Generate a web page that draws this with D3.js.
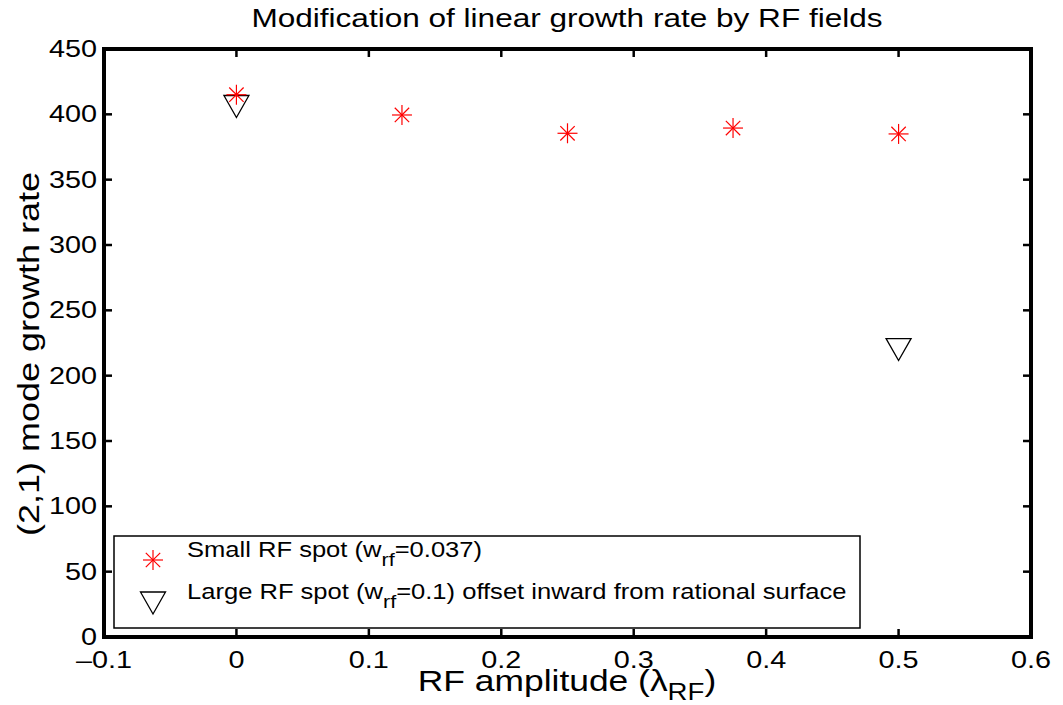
<!DOCTYPE html>
<html><head><meta charset="utf-8">
<script src="https://cdn.jsdelivr.net/npm/d3@7"></script>
<style>body{margin:0;background:#fff}svg{display:block}text{font-family:"Liberation Sans",Arial,sans-serif}</style>
</head><body>
<svg id="c" width="1063" height="705"></svg>
<script>
const amplitude = [0, 0.125, 0.25, 0.375, 0.5];
const smallSpot = [415, 399.5, 385.5, 389.5, 385];
const largeAmp = [0, 0.5];
const largeSpot = [406, 220];
const xTicks = [-0.1, 0, 0.1, 0.2, 0.3, 0.4, 0.5, 0.6];
const yTicks = [0, 50, 100, 150, 200, 250, 300, 350, 400, 450];
const title = "Modification of linear growth rate by RF fields";

const svg = d3.select("#c");
const L = 104, R = 1031, T = 49, B = 637;
const SX = 1.2;
const x = d3.scaleLinear().domain([-0.1, 0.6]).range([L, R]);
const y = d3.scaleLinear().domain([0, 450]).range([B, T]);

function txt(sel, px, py, anchor, size, rot) {
  const gg = sel.append("g").attr("transform", `translate(${px},${py})` + (rot ? ` rotate(${rot})` : "") + ` scale(${SX},1)`);
  return gg.append("text").attr("text-anchor", anchor).attr("font-size", size);
}

const tl = 8;
const g = svg.append("g");
xTicks.forEach(v => {
  g.append("line").attr("x1", x(v)).attr("x2", x(v)).attr("y1", B).attr("y2", B - tl).attr("stroke", "#000").attr("stroke-width", 2.5);
  g.append("line").attr("x1", x(v)).attr("x2", x(v)).attr("y1", T).attr("y2", T + tl).attr("stroke", "#000").attr("stroke-width", 2.5);
  txt(g, x(v), 668, "middle", 24).text(v < 0 ? "\u2013" + Math.abs(v) : String(v));
});
yTicks.forEach(v => {
  g.append("line").attr("x1", L).attr("x2", L + tl).attr("y1", y(v)).attr("y2", y(v)).attr("stroke", "#000").attr("stroke-width", 2.5);
  g.append("line").attr("x1", R).attr("x2", R - tl).attr("y1", y(v)).attr("y2", y(v)).attr("stroke", "#000").attr("stroke-width", 2.5);
  txt(g, 97, y(v) + 8, "end", 24).text(v);
});
svg.append("rect").attr("x", L).attr("y", T).attr("width", R - L).attr("height", B - T)
  .attr("fill", "none").attr("stroke", "#000").attr("stroke-width", 4);

function star(sel, cx, cy, s) {
  const h = s / 2, d = h * 0.72;
  const gg = sel.append("g").attr("stroke", "#ff0000").attr("stroke-width", 1.2);
  gg.append("line").attr("x1", cx - h).attr("x2", cx + h).attr("y1", cy).attr("y2", cy);
  gg.append("line").attr("x1", cx).attr("x2", cx).attr("y1", cy - h).attr("y2", cy + h);
  gg.append("line").attr("x1", cx - d).attr("x2", cx + d).attr("y1", cy - d).attr("y2", cy + d);
  gg.append("line").attr("x1", cx - d).attr("x2", cx + d).attr("y1", cy + d).attr("y2", cy - d);
}
function tri(sel, cx, cy) {
  const w = 12.5, h = 11;
  sel.append("path").attr("d", `M${cx - w},${cy - h}L${cx + w},${cy - h}L${cx},${cy + h}Z`)
    .attr("fill", "none").attr("stroke", "#000").attr("stroke-width", 1.3);
}
largeAmp.forEach((a, i) => tri(svg, x(a), y(largeSpot[i])));
amplitude.forEach((a, i) => star(svg, x(a), y(smallSpot[i]), 20));

// legend
const lg = svg.append("g");
lg.append("rect").attr("x", 114).attr("y", 536).attr("width", 746).attr("height", 92)
  .attr("fill", "#fff").attr("stroke", "#000").attr("stroke-width", 1.5);
star(lg, 153, 560, 20);
tri(lg, 153, 603);
const t1 = txt(lg, 187, 557, "start", 21.3);
t1.append("tspan").text("Small RF spot (w");
t1.append("tspan").attr("dy", 9).attr("font-size", 18).text("rf");
t1.append("tspan").attr("dy", -9).text("=0.037)");
const t2 = txt(lg, 187, 599, "start", 21.3);
t2.append("tspan").text("Large RF spot (w");
t2.append("tspan").attr("dy", 9).attr("font-size", 18).text("rf");
t2.append("tspan").attr("dy", -9).text("=0.1) offset inward from rational surface");

// title & labels
txt(svg, 567, 27, "middle", 26.3).text(title);
const xl = txt(svg, 567, 691, "middle", 29.5);
xl.append("tspan").text("RF amplitude (\u03bb");
xl.append("tspan").attr("dy", 9).attr("font-size", 23).text("RF");
xl.append("tspan").attr("dy", -9).text(")");
txt(svg, 39, 354, "middle", 30, -90).text("(2,1) mode growth rate");
</script>
</body></html>
